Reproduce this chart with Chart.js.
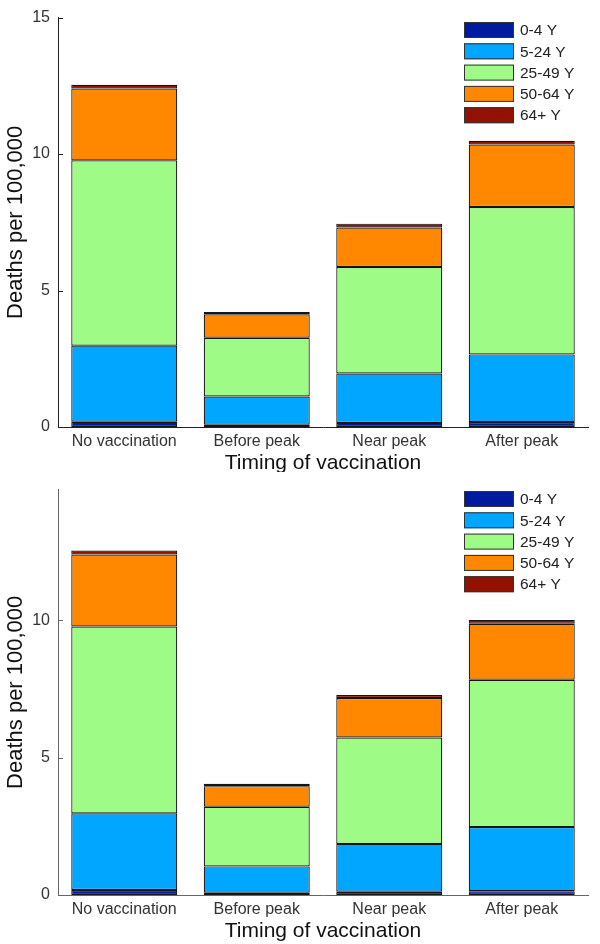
<!DOCTYPE html>
<html>
<head>
<meta charset="utf-8">
<script src="https://cdn.jsdelivr.net/npm/chart.js@4.4.1/dist/chart.umd.min.js"></script>
<style>
  html, body { margin: 0; padding: 0; background: #fff; }
  canvas { display: block; }
</style>
</head>
<body>
<canvas id="topChart" width="600" height="472"></canvas>
<canvas id="bottomChart" width="600" height="472"></canvas>
<script>
/* ── DATA ── */
const categories = ["No vaccination", "Before peak", "Near peak", "After peak"];
const ageGroups = ["0-4 Y", "5-24 Y", "25-49 Y", "50-64 Y", "64+ Y"];
const yTickValues = [0, 5, 10, 15];

// top panel, deaths per 100,000 per age group
const topAge0to4 = [0.19, 0.08, 0.15, 0.18];
const topAge5to24 = [2.79, 1.04, 1.81, 2.48];
const topAge25to49 = [6.79, 2.15, 3.90, 5.40];
const topAge50to64 = [2.63, 0.86, 1.45, 2.29];
const topAge64plus = [0.14, 0.08, 0.14, 0.14];

// bottom panel
const bottomAge0to4 = [0.18, 0.08, 0.12, 0.14];
const bottomAge5to24 = [2.79, 0.96, 1.74, 2.33];
const bottomAge25to49 = [6.80, 2.17, 3.87, 5.36];
const bottomAge50to64 = [2.62, 0.75, 1.44, 2.04];
const bottomAge64plus = [0.14, 0.09, 0.11, 0.14];

/* ── STYLE ── */
const ageColors = ["#001aa0", "#00a6ff", "#9efb86", "#ff8800", "#921200"];
const FONT = "'Liberation Sans', Arial, sans-serif";

// inward y ticks + legend box in the upper right
const panelDecor = {
    id: "panelDecor",
    afterDraw(chart, args, opts) {
        const ctx = chart.ctx;
        const y = chart.scales.y;
        const area = chart.chartArea;
        ctx.save();
        ctx.strokeStyle = opts.axisColor;
        ctx.lineWidth = 1;
        y.ticks.forEach((t) => {
            const py = Math.round(y.getPixelForValue(t.value)) + 0.5;
            ctx.beginPath();
            ctx.moveTo(area.left, py);
            ctx.lineTo(area.left + 5, py);
            ctx.stroke();
        });

        // legend
        ctx.font = "15.5px " + FONT;
        ctx.textBaseline = "middle";
        ctx.textAlign = "left";
        chart.data.datasets.forEach((ds, i) => {
            const bx = opts.legendX;
            const by = opts.legendY + i * 21.3;
            ctx.fillStyle = ds.backgroundColor;
            ctx.fillRect(bx, by, 50, 16);
            ctx.strokeStyle = "#333";
            ctx.strokeRect(bx + 0.5, by + 0.5, 49, 15);
            ctx.fillStyle = "#222";
            ctx.fillText(ds.label, bx + 56, by + 9);
        });
        ctx.restore();
    },
};

function makeDatasets(series) {
    return series.map((data, i) => ({
        label: ageGroups[i],
        data: data,
        backgroundColor: ageColors[i],
        borderColor: "#151515",
        borderWidth: 1.2,
        borderSkipped: false,
        categoryPercentage: 0.8,
        barPercentage: 1.0,
    }));
}

function makeChart(id, series, yMax, axisColor, xAxisHeight, padTop, legendY, titlePad) {
    return new Chart(document.getElementById(id), {
        type: "bar",
        data: { labels: categories, datasets: makeDatasets(series) },
        options: {
            responsive: false,
            animation: false,
            layout: { padding: { top: padTop, right: 12, left: 0, bottom: 0 } },
            scales: {
                x: {
                    stacked: true,
                    grid: { display: false, drawTicks: false },
                    border: { color: axisColor, width: 1 },
                    ticks: { color: "#333", font: { family: FONT, size: 16 }, padding: 5, maxRotation: 0 },
                    title: {
                        display: true,
                        text: "Timing of vaccination",
                        color: "#111",
                        font: { family: FONT, size: 21, lineHeight: 1 },
                        padding: { top: 0, bottom: titlePad },
                    },
                    afterFit: (s) => { s.height = xAxisHeight; },
                },
                y: {
                    stacked: true,
                    min: 0,
                    max: yMax,
                    grid: { display: false, drawTicks: false },
                    border: { color: axisColor, width: 1 },
                    ticks: { color: "#333", font: { family: FONT, size: 16 }, padding: 8 },
                    afterBuildTicks: (s) => {
                        s.ticks = yTickValues.filter((v) => v <= yMax).map((v) => ({ value: v }));
                    },
                    title: {
                        display: true,
                        text: "Deaths per 100,000",
                        color: "#111",
                        font: { family: FONT, size: 22, lineHeight: 1 },
                        padding: { top: 5, bottom: 0 },
                    },
                    afterFit: (s) => { s.width = 58; },
                },
            },
            plugins: {
                legend: { display: false },
                tooltip: { enabled: false },
                panelDecor: { axisColor: axisColor, legendX: 464, legendY: legendY },
            },
        },
        plugins: [panelDecor],
    });
}

makeChart("topChart",
    [topAge0to4, topAge5to24, topAge25to49, topAge50to64, topAge64plus],
    15, "#222", 45, 8, 22, -2);
makeChart("bottomChart",
    [bottomAge0to4, bottomAge5to24, bottomAge25to49, bottomAge50to64, bottomAge64plus],
    14.75, "#666", 49, 11, 19, 2);
</script>
</body>
</html>
